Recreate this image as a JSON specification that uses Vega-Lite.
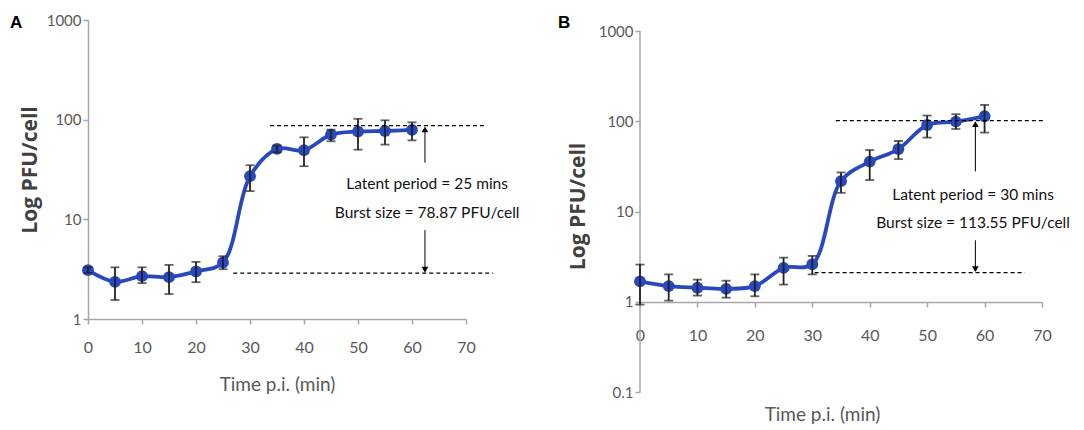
{
  "$schema": "https://vega.github.io/schema/vega-lite/v6.json",
  "background": "white",
  "padding": {"left": 10, "top": 13, "right": 5, "bottom": 5},
  "spacing": 174,
  "bounds": "flush",
  "config": {
    "view": {"stroke": null},
    "axis": {
      "grid": false,
      "domainColor": "#a6a6a6",
      "domainWidth": 1.5,
      "tickColor": "#a6a6a6",
      "tickWidth": 1.5,
      "tickSize": 5,
      "labelFont": "Lato",
      "labelColor": "#595959",
      "labelFontSize": 15,
      "labelFlush": false,
      "labelOverlap": false,
      "titleColor": "#595959",
      "titleFont": "Lato",
      "titleFontWeight": "normal"
    },
    "text": {"font": "Lato", "fontSize": 15.5, "color": "#111111"}
  },
  "datasets": {
    "curveA": [
      {"t": 0, "v": 3.09, "lo": 2.9, "hi": 3.3},
      {"t": 5, "v": 2.36, "lo": 1.55, "hi": 3.3},
      {"t": 10, "v": 2.69, "lo": 2.29, "hi": 3.3},
      {"t": 15, "v": 2.63, "lo": 1.78, "hi": 3.49},
      {"t": 20, "v": 3.0, "lo": 2.34, "hi": 3.74},
      {"t": 25, "v": 3.69, "lo": 3.16, "hi": 4.27},
      {"t": 30, "v": 27.1, "lo": 19.2, "hi": 34.9},
      {"t": 35, "v": 50.9, "lo": 47, "hi": 55},
      {"t": 40, "v": 49.4, "lo": 34.1, "hi": 66.5},
      {"t": 45, "v": 70.8, "lo": 60.7, "hi": 79.4},
      {"t": 50, "v": 76, "lo": 50, "hi": 102},
      {"t": 55, "v": 77, "lo": 56.2, "hi": 98.5},
      {"t": 60, "v": 78.87, "lo": 62, "hi": 94}
    ],
    "curveB": [
      {"t": 0, "v": 1.68, "lo": 0.93, "hi": 2.58},
      {"t": 5, "v": 1.49, "lo": 1.03, "hi": 2.01},
      {"t": 10, "v": 1.43, "lo": 1.17, "hi": 1.76},
      {"t": 15, "v": 1.39, "lo": 1.11, "hi": 1.71},
      {"t": 20, "v": 1.49, "lo": 1.15, "hi": 2.01},
      {"t": 25, "v": 2.37, "lo": 1.55, "hi": 3.08},
      {"t": 30, "v": 2.6, "lo": 2.01, "hi": 3.22},
      {"t": 35, "v": 21.7, "lo": 16.1, "hi": 27.1},
      {"t": 40, "v": 35.7, "lo": 22.3, "hi": 48},
      {"t": 45, "v": 49.2, "lo": 38.1, "hi": 60.4},
      {"t": 50, "v": 91, "lo": 65.9, "hi": 115.6},
      {"t": 55, "v": 99, "lo": 82, "hi": 119.6},
      {"t": 60, "v": 113.55, "lo": 74.9, "hi": 151.7}
    ],
    "dashA": [
      {"t": 33.7, "t2": 73.3, "v": 87},
      {"t": 26.9, "t2": 75, "v": 2.88}
    ],
    "arrowA": [
      {"t": 62.4, "v": 37, "v2": 80, "dir": "up", "head": 80},
      {"t": 62.4, "v": 7.8, "v2": 3.12, "dir": "down", "head": 3.12}
    ],
    "textA": [
      {"t": 62.8, "v": 22.4, "label": "Latent period = 25 mins"},
      {"t": 62.8, "v": 11.7, "label": "Burst size = 78.87 PFU/cell"}
    ],
    "dashB": [
      {"t": 34.1, "t2": 70.5, "v": 101.7},
      {"t": 30.4, "t2": 67, "v": 2.1}
    ],
    "arrowB": [
      {"t": 58.4, "v": 27.8, "v2": 93, "dir": "up", "head": 93},
      {"t": 58.4, "v": 4.8, "v2": 2.3, "dir": "down", "head": 2.3}
    ],
    "textB": [
      {"t": 58, "v": 15.2, "label": "Latent period = 30 mins"},
      {"t": 58, "v": 7.55, "label": "Burst size = 113.55 PFU/cell"}
    ]
  },
  "hconcat": [
    {
      "width": 378,
      "height": 299,
      "title": {"text": "A", "anchor": "start", "frame": "group", "offset": -19, "dx": -78, "fontSize": 17, "fontWeight": "bold", "color": "#000000", "font": "Liberation Sans"},
      "layer": [
        {
          "data": {"name": "curveA"},
          "mark": {"type": "line", "interpolate": "catmull-rom", "color": "#2848bd", "strokeWidth": 3.8},
          "encoding": {
            "x": {"field": "t", "type": "quantitative", "scale": {"domain": [0, 70], "nice": false},
              "axis": {"title": "Time p.i. (min)", "values": [0, 10, 20, 30, 40, 50, 60, 70], "labelFontSize": 16, "labelPadding": 15, "titleFontSize": 19, "titlePadding": 20}},
            "y": {"field": "v", "type": "quantitative", "scale": {"type": "log", "domain": [1, 1000], "nice": false},
              "axis": {"title": "Log PFU/cell", "values": [1, 10, 100, 1000], "format": "~g", "labelPadding": 2, "titleFont": "Open Sans", "titleFontWeight": "bold", "titleFontSize": 21, "titleColor": "#404040", "titlePadding": 6}}
          }
        },
        {
          "data": {"name": "curveA"},
          "mark": {"type": "circle", "size": 140, "opacity": 1, "color": "#2848bd"},
          "encoding": {"x": {"field": "t", "type": "quantitative"}, "y": {"field": "v", "type": "quantitative"}}
        },
        {
          "data": {"name": "curveA"},
          "mark": {"type": "rule", "color": "#222222", "strokeWidth": 1.8},
          "encoding": {"x": {"field": "t", "type": "quantitative"}, "y": {"field": "lo", "type": "quantitative"}, "y2": {"field": "hi"}}
        },
        {
          "data": {"name": "curveA"},
          "mark": {"type": "tick", "orient": "horizontal", "size": 9, "thickness": 1.8, "color": "#222222"},
          "encoding": {"x": {"field": "t", "type": "quantitative"}, "y": {"field": "lo", "type": "quantitative"}}
        },
        {
          "data": {"name": "curveA"},
          "mark": {"type": "tick", "orient": "horizontal", "size": 9, "thickness": 1.8, "color": "#222222"},
          "encoding": {"x": {"field": "t", "type": "quantitative"}, "y": {"field": "hi", "type": "quantitative"}}
        },
        {
          "data": {"name": "dashA"},
          "mark": {"type": "rule", "color": "#000000", "strokeWidth": 1.2, "strokeDash": [4, 3]},
          "encoding": {"x": {"field": "t", "type": "quantitative"}, "x2": {"field": "t2"}, "y": {"field": "v", "type": "quantitative"}}
        },
        {
          "data": {"name": "arrowA"},
          "mark": {"type": "rule", "color": "#000000", "strokeWidth": 1},
          "encoding": {"x": {"field": "t", "type": "quantitative"}, "y": {"field": "v", "type": "quantitative"}, "y2": {"field": "v2"}}
        },
        {
          "data": {"name": "arrowA"},
          "mark": {"type": "point", "filled": true, "size": 45, "opacity": 1, "color": "#000000"},
          "encoding": {
            "x": {"field": "t", "type": "quantitative"},
            "y": {"field": "head", "type": "quantitative"},
            "shape": {"field": "dir", "type": "nominal", "scale": {"domain": ["up", "down"], "range": ["triangle-up", "triangle-down"]}, "legend": null}
          }
        },
        {
          "data": {"name": "textA"},
          "mark": {"type": "text", "align": "center", "baseline": "middle"},
          "encoding": {"x": {"field": "t", "type": "quantitative"}, "y": {"field": "v", "type": "quantitative"}, "text": {"field": "label"}}
        }
      ]
    },
    {
      "width": 402,
      "height": 372,
      "title": {"text": "B", "anchor": "start", "frame": "group", "offset": -12, "dx": -82, "fontSize": 17, "fontWeight": "bold", "color": "#000000", "font": "Liberation Sans"},
      "layer": [
        {
          "data": {"name": "curveB"},
          "mark": {"type": "line", "interpolate": "catmull-rom", "color": "#2848bd", "strokeWidth": 3.8},
          "encoding": {
            "x": {"field": "t", "type": "quantitative", "scale": {"domain": [0, 70], "nice": false},
              "axis": {"title": "Time p.i. (min)", "values": [0, 10, 20, 30, 40, 50, 60, 70], "offset": -90, "labelFontSize": 16, "labelPadding": 20, "titleFontSize": 19, "titleY": 112, "titleX": 182, "titleBaseline": "middle", "titleAlign": "center"}},
            "y": {"field": "v", "type": "quantitative", "scale": {"type": "log", "domain": [0.1, 1324], "nice": false},
              "axis": {"title": "Log PFU/cell", "values": [0.1, 1, 10, 100, 1000], "format": "~g", "domain": false, "labelPadding": 2, "titleFont": "Open Sans", "titleFontWeight": "bold", "titleFontSize": 21, "titleColor": "#404040", "titlePadding": 10}}
          }
        },
        {
          "data": {"values": [{}]},
          "mark": {"type": "rule", "color": "#a6a6a6", "strokeWidth": 1.5},
          "encoding": {"x": {"datum": 0, "type": "quantitative"}, "y": {"datum": 0.1, "type": "quantitative"}, "y2": {"datum": 1000}}
        },
        {
          "data": {"name": "curveB"},
          "mark": {"type": "circle", "size": 140, "opacity": 1, "color": "#2848bd"},
          "encoding": {"x": {"field": "t", "type": "quantitative"}, "y": {"field": "v", "type": "quantitative"}}
        },
        {
          "data": {"name": "curveB"},
          "mark": {"type": "rule", "color": "#222222", "strokeWidth": 1.8},
          "encoding": {"x": {"field": "t", "type": "quantitative"}, "y": {"field": "lo", "type": "quantitative"}, "y2": {"field": "hi"}}
        },
        {
          "data": {"name": "curveB"},
          "mark": {"type": "tick", "orient": "horizontal", "size": 9, "thickness": 1.8, "color": "#222222"},
          "encoding": {"x": {"field": "t", "type": "quantitative"}, "y": {"field": "lo", "type": "quantitative"}}
        },
        {
          "data": {"name": "curveB"},
          "mark": {"type": "tick", "orient": "horizontal", "size": 9, "thickness": 1.8, "color": "#222222"},
          "encoding": {"x": {"field": "t", "type": "quantitative"}, "y": {"field": "hi", "type": "quantitative"}}
        },
        {
          "data": {"name": "dashB"},
          "mark": {"type": "rule", "color": "#000000", "strokeWidth": 1.2, "strokeDash": [4, 3]},
          "encoding": {"x": {"field": "t", "type": "quantitative"}, "x2": {"field": "t2"}, "y": {"field": "v", "type": "quantitative"}}
        },
        {
          "data": {"name": "arrowB"},
          "mark": {"type": "rule", "color": "#000000", "strokeWidth": 1},
          "encoding": {"x": {"field": "t", "type": "quantitative"}, "y": {"field": "v", "type": "quantitative"}, "y2": {"field": "v2"}}
        },
        {
          "data": {"name": "arrowB"},
          "mark": {"type": "point", "filled": true, "size": 45, "opacity": 1, "color": "#000000"},
          "encoding": {
            "x": {"field": "t", "type": "quantitative"},
            "y": {"field": "head", "type": "quantitative"},
            "shape": {"field": "dir", "type": "nominal", "scale": {"domain": ["up", "down"], "range": ["triangle-up", "triangle-down"]}, "legend": null}
          }
        },
        {
          "data": {"name": "textB"},
          "mark": {"type": "text", "align": "center", "baseline": "middle"},
          "encoding": {"x": {"field": "t", "type": "quantitative"}, "y": {"field": "v", "type": "quantitative"}, "text": {"field": "label"}}
        }
      ]
    }
  ],
  "resolve": {"scale": {"x": "independent", "y": "independent", "shape": "independent"}}
}
